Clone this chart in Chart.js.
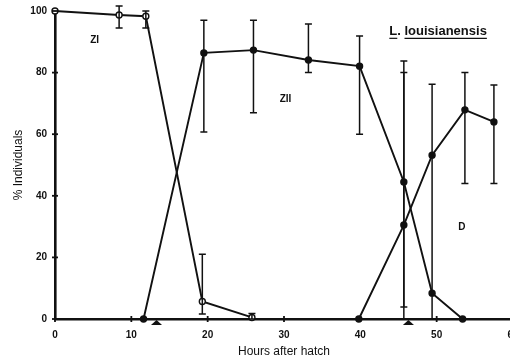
<!DOCTYPE html>
<html>
<head>
<meta charset="utf-8">
<script src="https://cdn.jsdelivr.net/npm/chart.js@4/dist/chart.umd.min.js"></script>
<style>
  html, body { margin: 0; padding: 0; background: #fff; overflow: hidden; width: 510px; height: 361px; }
  canvas { display: block; }
</style>
</head>
<body>
<canvas id="stageChart" width="522" height="361"></canvas>
<script>
// hours after hatch / % individuals
const hoursZI = [0, 8.4, 11.9, 19.3, 25.8];
const valuesZI = [100, 98.7, 98.3, 5.7, 0.5];
const lowZI = [null, 94.5, 94.5, 1.6, 0];
const highZI = [null, 101.6, 100, 21, 1.8];

const hoursZII = [11.6, 19.5, 26.0, 33.2, 39.9, 45.7, 49.4, 53.4];
const valuesZII = [0, 86.4, 87.3, 84.1, 82.1, 44.5, 8.4, 0];
const lowZII = [null, 60.7, 67, 80, 60, 3.9, null, null];
const highZII = [null, 97, 97, 95.8, 91.9, 83.8, null, null];

const hoursD = [39.8, 45.7, 49.4, 53.7, 57.5];
const valuesD = [0, 30.5, 53.2, 67.9, 64];
const lowD = [null, 0, 0, 44, 44];
const highD = [null, 80, 76.2, 80, 76];

const xTicks = [0, 10, 20, 30, 40, 50, 60];
const yTicks = [0, 20, 40, 60, 80, 100];
const moultHours = [13.3, 46.3];

const stageLabels = [
    {text: 'ZI', x: 5.2, y: 90.6},
    {text: 'ZII', x: 30.2, y: 71.4},
    {text: 'D', x: 53.3, y: 29.9}
];

const FONT = '"Liberation Sans", Arial, sans-serif';

const toPoints = (xs, ys) => xs.map((x, i) => ({x, y: ys[i]}));

const makeSeries = (label, xs, ys, low, high, open) => ({
    label,
    data: toPoints(xs, ys),
    errLow: low,
    errHigh: high,
    borderColor: '#111',
    borderWidth: 1.9,
    pointRadius: 3,
    pointBorderWidth: 1.4,
    pointBackgroundColor: open ? '#fff' : '#111',
    pointBorderColor: '#111',
    showLine: true,
    tension: 0,
    clip: false
});

// error bars, axis crosses, moult arrows and labels
const figureExtras = {
    id: 'figureExtras',
    afterDatasetsDraw(chart) {
        const {ctx, scales: {x, y}} = chart;
        ctx.save();
        ctx.strokeStyle = '#111';
        ctx.lineWidth = 1.5;

        chart.data.datasets.forEach(ds => {
            ds.data.forEach((p, i) => {
                const lo = ds.errLow[i], hi = ds.errHigh[i];
                if (lo === null || hi === null) return;
                const px = x.getPixelForValue(p.x);
                const top = y.getPixelForValue(hi);
                const bot = y.getPixelForValue(lo);
                ctx.beginPath();
                ctx.moveTo(px, top); ctx.lineTo(px, bot);
                ctx.moveTo(px - 3.5, top); ctx.lineTo(px + 3.5, top);
                ctx.moveTo(px - 3.5, bot); ctx.lineTo(px + 3.5, bot);
                ctx.stroke();
            });
        });

        // tick crosses through the axes
        ctx.lineWidth = 1.8;
        const y0 = y.getPixelForValue(0);
        const x0 = x.getPixelForValue(0);
        xTicks.forEach(v => {
            const px = x.getPixelForValue(v);
            ctx.beginPath(); ctx.moveTo(px, y0 - 3); ctx.lineTo(px, y0 + 3); ctx.stroke();
        });
        yTicks.forEach(v => {
            const py = y.getPixelForValue(v);
            ctx.beginPath(); ctx.moveTo(x0 - 3, py); ctx.lineTo(x0 + 3, py); ctx.stroke();
        });

        // moult arrows under the x axis
        ctx.fillStyle = '#111';
        moultHours.forEach(h => {
            const px = x.getPixelForValue(h);
            ctx.beginPath();
            ctx.moveTo(px, y0 + 1);
            ctx.lineTo(px + 5.5, y0 + 6);
            ctx.lineTo(px - 5.5, y0 + 6);
            ctx.closePath();
            ctx.fill();
        });

        ctx.font = 'bold 10px ' + FONT;
        ctx.textAlign = 'center';
        ctx.textBaseline = 'middle';
        stageLabels.forEach(l => {
            ctx.fillText(l.text, x.getPixelForValue(l.x), y.getPixelForValue(l.y));
        });

        // species name, underlined (genus initial and epithet separately)
        ctx.font = 'bold 13px ' + FONT;
        ctx.textAlign = 'left';
        const tx = x.getPixelForValue(43.8);
        const ty = y.getPixelForValue(93.4);
        const parts = ['L', '. ', 'louisianensis'];
        let cx = tx;
        ctx.lineWidth = 1.2;
        parts.forEach((s, i) => {
            const w = ctx.measureText(s).width;
            ctx.fillText(s, cx, ty);
            if (i !== 1) {
                ctx.beginPath(); ctx.moveTo(cx, ty + 7); ctx.lineTo(cx + w, ty + 7); ctx.stroke();
            }
            cx += w;
        });
        ctx.restore();
    }
};

new Chart(document.getElementById('stageChart'), {
    type: 'scatter',
    data: {
        datasets: [
            makeSeries('ZI', hoursZI, valuesZI, lowZI, highZI, true),
            makeSeries('ZII', hoursZII, valuesZII, lowZII, highZII, false),
            makeSeries('D', hoursD, valuesD, lowD, highD, false)
        ]
    },
    options: {
        responsive: false,
        animation: false,
        layout: {padding: {top: 11, right: 9, left: 0, bottom: 0}},
        plugins: {legend: {display: false}, tooltip: {enabled: false}},
        scales: {
            x: {
                type: 'linear',
                min: 0, max: 60,
                afterBuildTicks: s => { s.ticks = xTicks.map(v => ({value: v})); },
                afterFit: s => { s.height = 42; },
                grid: {display: false},
                border: {display: true, color: '#111', width: 2.6},
                ticks: {color: '#111', padding: 2, font: {family: FONT, size: 10, weight: 'bold'}},
                title: {
                    display: true, text: 'Hours after hatch', color: '#111',
                    font: {family: FONT, size: 12}, padding: {top: 0, bottom: 2}
                }
            },
            y: {
                min: 0, max: 100,
                afterBuildTicks: s => { s.ticks = yTicks.map(v => ({value: v})); },
                afterFit: s => { s.width = 55; },
                grid: {display: false},
                border: {display: true, color: '#111', width: 2.6},
                ticks: {color: '#111', padding: 0, font: {family: FONT, size: 10, weight: 'bold'}},
                title: {
                    display: true, text: '% Individuals', color: '#111',
                    font: {family: FONT, size: 12}, padding: {top: 11, bottom: 0}
                }
            }
        }
    },
    plugins: [figureExtras]
});
</script>
</body>
</html>
